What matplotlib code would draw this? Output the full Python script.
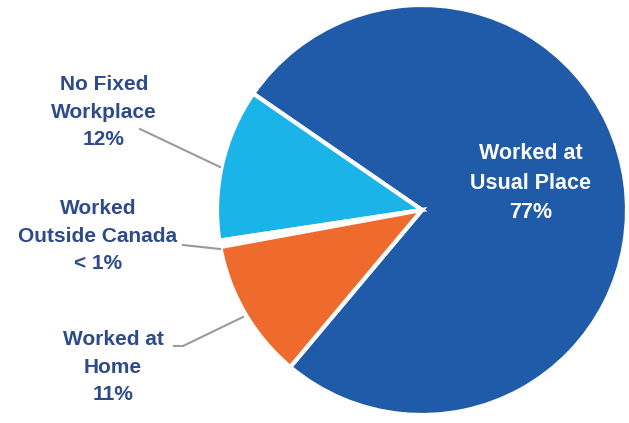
import matplotlib
matplotlib.use("Agg")
import matplotlib.pyplot as plt

# shares of workers by place of work (%)
categories = ["Worked at Usual Place", "No Fixed Workplace",
              "Worked Outside Canada", "Worked at Home"]
shares = [76.5, 12.0, 0.5, 11.0]
label_text = ["Worked at\nUsual Place\n77%", "No Fixed\nWorkplace\n12%",
              "Worked\nOutside Canada\n< 1%", "Worked at\nHome\n11%"]
colors = ["#1f5ba8", "#1ab4e8", "#ffffff", "#ee6a2d"]

W, H = 629, 423
fig = plt.figure(figsize=(W / 100, H / 100), dpi=100)
ax = fig.add_axes([0, 0, 1, 1])

# pixel coords measured top-down; flip y
cx, cy, r = 422, H - 210, 205
ax.pie(shares, colors=colors, startangle=230, counterclock=True,
       center=(cx, cy), radius=r, frame=True,
       wedgeprops=dict(edgecolor="white", linewidth=3))
ax.set_xlim(0, W)
ax.set_ylim(0, H)
ax.set_aspect("equal")
ax.axis("off")

font = ["Liberation Sans", "DejaVu Sans"]
navy = "#2d4a8a"
kw = dict(ha="center", va="center", fontweight="bold", family=font,
          linespacing=1.55)

ax.text(531, H - 183, label_text[0], color="white", fontsize=15.5, **kw)
ax.text(104, H - 112, label_text[1], color=navy, fontsize=15, **kw)
ax.text(98, H - 236, label_text[2], color=navy, fontsize=15, **kw)
ax.text(113, H - 367, label_text[3], color=navy, fontsize=15, **kw)

# leader lines
lc = "#9a9a9a"
ax.plot([140, 220], [H - 129, H - 167], color=lc, lw=1.5)
ax.plot([183, 220], [H - 245, H - 249], color=lc, lw=1.5)
ax.plot([174, 183, 243], [H - 346, H - 346, H - 317], color=lc, lw=1.5)

fig.savefig("out.png", dpi=100)
